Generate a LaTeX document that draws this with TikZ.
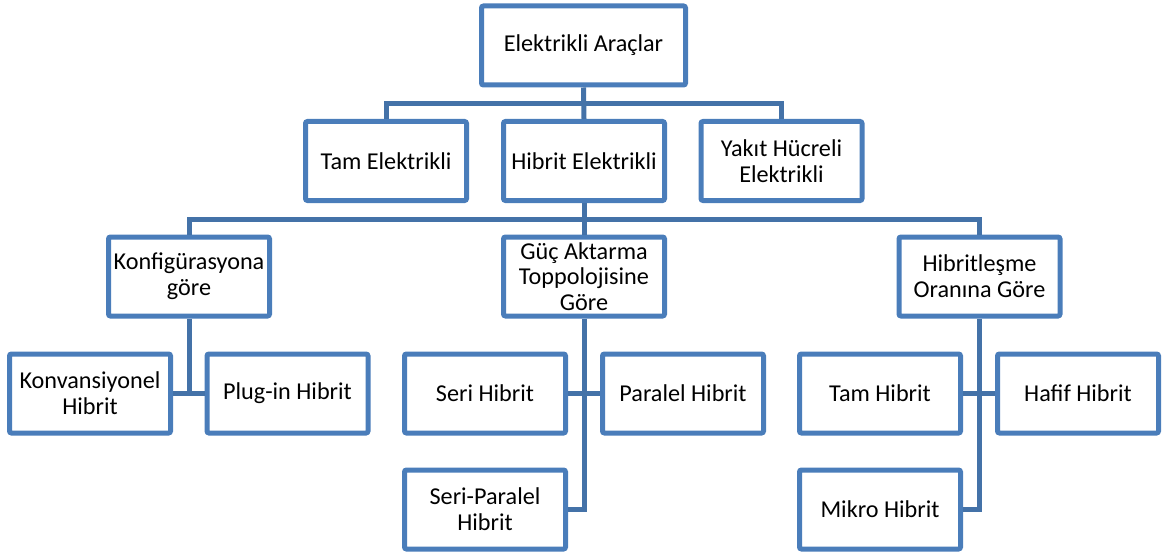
\documentclass[tikz,border=0pt]{standalone}
\usepackage{fontspec}
\setmainfont{Carlito}
\definecolor{boxblue}{HTML}{4A7DBA}
\definecolor{linkblue}{HTML}{4472A8}
\begin{document}
\begin{tikzpicture}[x=1pt,y=1pt,
  box/.style={draw=boxblue, line width=5pt, rounded corners=2pt, fill=white,
    minimum width=161pt, minimum height=79pt, align=center, inner sep=1pt,
    font=\fontsize{24.2}{25.8}\selectfont, text=black},
  conn/.style={draw=linkblue, line width=5pt}]
\useasboundingbox (0,0) rectangle (1167,-559);
% row 1
\node[box, minimum width=204pt] (top) at (583.5,-45.5) {Elektrikli Araçlar};
% row 2
\node[box] (tam) at (386,-161) {Tam Elektrikli};
\node[box] (hib) at (584,-161) {Hibrit Elektrikli};
\node[box] (yak) at (781.5,-161) {Yakıt Hücreli\\Elektrikli};
% row 3
\node[box] (konf) at (189,-276.5) {Konfigürasyona\\göre};
\node[box] (guc) at (584,-276.5) {Güç Aktarma\\Toppolojisine\\Göre};
\node[box] (oran) at (979.5,-276.5) {Hibritleşme\\Oranına Göre};
% row 4
\node[box] (konv) at (90,-393.5) {Konvansiyonel\\Hibrit};
\node[box] (plug) at (287.5,-393.5) {Plug-in Hibrit};
\node[box] (seri) at (485,-393.5) {Seri Hibrit};
\node[box] (par) at (683,-393.5) {Paralel Hibrit};
\node[box] (tamh) at (880,-393.5) {Tam Hibrit};
\node[box] (hafif) at (1078,-393.5) {Hafif Hibrit};
% row 5
\node[box] (serip) at (485,-509.5) {Seri-Paralel\\Hibrit};
\node[box] (mikro) at (880,-509.5) {Mikro Hibrit};
% connectors
\coordinate (l1) at (0,-103.5);
\coordinate (l2) at (0,-219);
\draw[conn] (top.south) -- (hib.north);
\draw[conn] (tam.north) -- (tam.north |- l1) -- (yak.north |- l1) -- (yak.north);
\draw[conn] (hib.south) -- (hib.south |- l2);
\draw[conn] (konf.north) -- (konf.north |- l2) -- (oran.north |- l2) -- (oran.north);
\draw[conn] (guc.north) -- (guc.north |- l2);
\draw[conn] (konf.south) -- (konf.south |- konv.east);
\draw[conn] (konv.east) -- (plug.west);
\draw[conn] (guc.south) |- (serip.east);
\draw[conn] (seri.east) -- (par.west);
\draw[conn] (oran.south) |- (mikro.east);
\draw[conn] (tamh.east) -- (hafif.west);
\end{tikzpicture}
\end{document}
